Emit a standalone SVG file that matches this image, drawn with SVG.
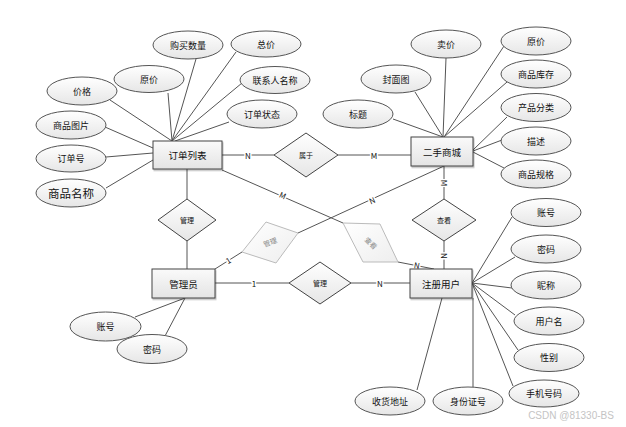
<svg xmlns="http://www.w3.org/2000/svg" width="626" height="427" viewBox="0 0 626 427">
<defs>
<linearGradient id="eg" x1="0" y1="0" x2="0" y2="1"><stop offset="0" stop-color="#ffffff"/><stop offset="1" stop-color="#e6e6e6"/></linearGradient>
<linearGradient id="rg" x1="0" y1="0" x2="0" y2="1"><stop offset="0" stop-color="#fafafa"/><stop offset="1" stop-color="#e4e4e4"/></linearGradient>
<linearGradient id="gg" x1="0" y1="0" x2="1" y2="1"><stop offset="0" stop-color="#ffffff"/><stop offset="1" stop-color="#eeeeee"/></linearGradient>
<filter id="sh" x="-10%" y="-10%" width="130%" height="140%"><feDropShadow dx="1" dy="1.5" stdDeviation="0.6" flood-color="#000" flood-opacity="0.25"/></filter>
</defs>
<style>
text{font-family:"Noto Sans CJK SC","Liberation Sans",sans-serif;font-size:9px;fill:#111;text-anchor:middle;dominant-baseline:central}
.at ellipse{fill:url(#eg);stroke:#555;stroke-width:1}
.en rect{fill:url(#rg);stroke:#444;stroke-width:1}
.en text{font-size:9.5px}
.rel polygon{fill:url(#eg);stroke:#444;stroke-width:1}
.rel text{font-size:7px}
.gr polygon{fill:url(#gg);stroke:#bbb;stroke-width:1}
.gr text{font-size:7px;fill:#888}
#conn line,#conn polyline{stroke:#555;stroke-width:1;fill:none}
.lb{font-size:8px;paint-order:stroke;stroke:#fff;stroke-width:3px}
</style>
<rect width="626" height="427" fill="#fff"/>
<g id="conn">
<line x1="110" y1="100" x2="172" y2="141"/>
<line x1="168" y1="93" x2="172" y2="141"/>
<line x1="196" y1="59" x2="172" y2="141"/>
<line x1="236" y1="52" x2="172" y2="141"/>
<line x1="242" y1="83" x2="172" y2="141"/>
<line x1="229" y1="122" x2="175" y2="141"/>
<line x1="105" y1="127" x2="153" y2="148"/>
<line x1="106" y1="157" x2="153" y2="153"/>
<line x1="106" y1="188" x2="153" y2="160"/>
<line x1="446" y1="58" x2="443" y2="137"/>
<line x1="415" y1="92" x2="443" y2="137"/>
<line x1="393" y1="119" x2="443" y2="137"/>
<line x1="504" y1="46" x2="444" y2="137"/>
<line x1="507" y1="82" x2="444" y2="137"/>
<line x1="507" y1="117" x2="473" y2="150"/>
<line x1="502" y1="140" x2="473" y2="151"/>
<line x1="504" y1="168" x2="473" y2="152"/>
<line x1="512" y1="217" x2="472" y2="283"/>
<line x1="515" y1="257" x2="472" y2="283"/>
<line x1="512" y1="288" x2="472" y2="283"/>
<line x1="515" y1="315" x2="472" y2="283"/>
<line x1="518" y1="350" x2="472" y2="283"/>
<line x1="513" y1="386" x2="472" y2="283"/>
<line x1="473" y1="298" x2="473" y2="387"/>
<line x1="442" y1="298" x2="417" y2="390"/>
<line x1="135" y1="317" x2="185" y2="298"/>
<line x1="165" y1="336" x2="185" y2="298"/>
<line x1="222" y1="155" x2="274" y2="155"/>
<line x1="338" y1="155" x2="411" y2="155"/>
<line x1="187" y1="169" x2="187" y2="199"/>
<line x1="187" y1="241" x2="187" y2="269"/>
<line x1="222" y1="170" x2="343" y2="223"/>
<line x1="398" y1="262" x2="434" y2="269"/>
<line x1="215" y1="269" x2="242" y2="252"/>
<line x1="298" y1="233" x2="444" y2="166"/>
<line x1="444" y1="166" x2="444" y2="199"/>
<line x1="444" y1="241" x2="444" y2="269"/>
<line x1="215" y1="283" x2="289" y2="283"/>
<line x1="351" y1="283" x2="410" y2="283"/>
<text class="lb" x="248" y="155">N</text>
<text class="lb" x="374" y="155">M</text>
<text class="lb" x="283" y="195" transform="rotate(24 283 195)">M</text>
<text class="lb" x="417" y="265" transform="rotate(10 417 265)">N</text>
<text class="lb" x="228" y="260" transform="rotate(-32 228 260)">1</text>
<text class="lb" x="372" y="200" transform="rotate(-24 372 200)">N</text>
<text class="lb" x="444" y="183" transform="rotate(90 444 183)">M</text>
<text class="lb" x="444" y="256" transform="rotate(90 444 256)">N</text>
<text class="lb" x="254" y="283">1</text>
<text class="lb" x="380" y="283">N</text>
</g>
<g id="e-order" class="en"><rect x="153" y="141" width="69" height="28" filter="url(#sh)"/><text x="187.5" y="155">订单列表</text></g>
<g id="e-mall" class="en"><rect x="411" y="137" width="62" height="29" filter="url(#sh)"/><text x="442" y="151.5">二手商城</text></g>
<g id="e-admin" class="en"><rect x="152" y="269" width="63" height="29" filter="url(#sh)"/><text x="183.5" y="283.5">管理员</text></g>
<g id="e-user" class="en"><rect x="410" y="269" width="62" height="29" filter="url(#sh)"/><text x="441" y="283.5">注册用户</text></g>
<g id="r-belong" class="rel"><polygon points="274,155 306,133 338,155 306,177"/><text x="306" y="155">属于</text></g>
<g id="r-manage1" class="rel"><polygon points="158,220 187,199 216,220 187,241"/><text x="187" y="220">管理</text></g>
<g id="r-manage2" class="rel"><polygon points="289,283 320,262 351,283 320,304"/><text x="320" y="283">管理</text></g>
<g id="r-view1" class="rel"><polygon points="412,220 444,199 476,220 444,241"/><text x="444" y="220">查看</text></g>
<g id="r-manage3" class="gr"><polygon points="242,252 266,222 298,233 276,263"/><text x="270" y="242" transform="rotate(-20 270 242)">管理</text></g>
<g id="r-view2" class="gr"><polygon points="343,223 380,224 398,262 363,262"/><text x="371" y="243" transform="rotate(45 371 243)">查看</text></g>
<g class="at">
<g id="a-qty"><ellipse cx="188" cy="45" rx="35" ry="14"/><text x="188" y="45">购买数量</text></g>
<g id="a-total"><ellipse cx="266" cy="44" rx="35" ry="13"/><text x="266" y="44">总价</text></g>
<g id="a-oprice"><ellipse cx="149" cy="79" rx="35" ry="13.5"/><text x="149" y="79">原价</text></g>
<g id="a-price"><ellipse cx="82" cy="91" rx="35" ry="14"/><text x="82" y="91">价格</text></g>
<g id="a-contact"><ellipse cx="275" cy="80" rx="35" ry="13.5"/><text x="275" y="80">联系人名称</text></g>
<g id="a-status"><ellipse cx="262" cy="114" rx="35" ry="14"/><text x="262" y="114">订单状态</text></g>
<g id="a-pic"><ellipse cx="71" cy="125" rx="35" ry="14"/><text x="71" y="125">商品图片</text></g>
<g id="a-ono"><ellipse cx="71" cy="158.5" rx="35" ry="13.5"/><text x="71" y="158.5">订单号</text></g>
<g id="a-gname"><ellipse cx="71" cy="193" rx="35" ry="14"/><text x="71" y="193" style="font-size:11.5px">商品名称</text></g>
<g id="a-sell"><ellipse cx="446" cy="44" rx="35" ry="14"/><text x="446" y="44">卖价</text></g>
<g id="a-oprice2"><ellipse cx="536" cy="41" rx="35" ry="14"/><text x="536" y="41">原价</text></g>
<g id="a-cover"><ellipse cx="396" cy="79" rx="35" ry="14"/><text x="396" y="79">封面图</text></g>
<g id="a-stock"><ellipse cx="536" cy="74" rx="35" ry="14"/><text x="536" y="74">商品库存</text></g>
<g id="a-title"><ellipse cx="358" cy="114" rx="35" ry="14"/><text x="358" y="114">标题</text></g>
<g id="a-cat"><ellipse cx="536" cy="107.5" rx="35" ry="14"/><text x="536" y="107.5">产品分类</text></g>
<g id="a-desc"><ellipse cx="536" cy="141" rx="35" ry="14"/><text x="536" y="141">描述</text></g>
<g id="a-spec"><ellipse cx="536" cy="174" rx="35" ry="14"/><text x="536" y="174">商品规格</text></g>
<g id="a-uacc"><ellipse cx="546" cy="212.5" rx="35" ry="14"/><text x="546" y="212.5">账号</text></g>
<g id="a-upwd"><ellipse cx="546" cy="249" rx="35" ry="14"/><text x="546" y="249">密码</text></g>
<g id="a-nick"><ellipse cx="546" cy="285" rx="35" ry="14"/><text x="546" y="285">昵称</text></g>
<g id="a-uname"><ellipse cx="549" cy="321" rx="35" ry="14"/><text x="549" y="321">用户名</text></g>
<g id="a-sex"><ellipse cx="549" cy="357.5" rx="35" ry="14"/><text x="549" y="357.5">性别</text></g>
<g id="a-phone"><ellipse cx="544" cy="393.5" rx="35" ry="13.5"/><text x="544" y="393.5">手机号码</text></g>
<g id="a-addr"><ellipse cx="390" cy="401" rx="35" ry="14"/><text x="390" y="401">收货地址</text></g>
<g id="a-idno"><ellipse cx="468" cy="401" rx="35" ry="14"/><text x="468" y="401">身份证号</text></g>
<g id="a-aacc"><ellipse cx="105.5" cy="326.5" rx="35.5" ry="14.5"/><text x="105.5" y="326.5">账号</text></g>
<g id="a-apwd"><ellipse cx="152" cy="349" rx="35" ry="14.5"/><text x="152" y="349">密码</text></g>
</g>
<text x="571" y="415" style="font-size:10px;fill:#c4c4c4;font-family:'Liberation Sans',sans-serif">CSDN @81330-BS</text>
</svg>
